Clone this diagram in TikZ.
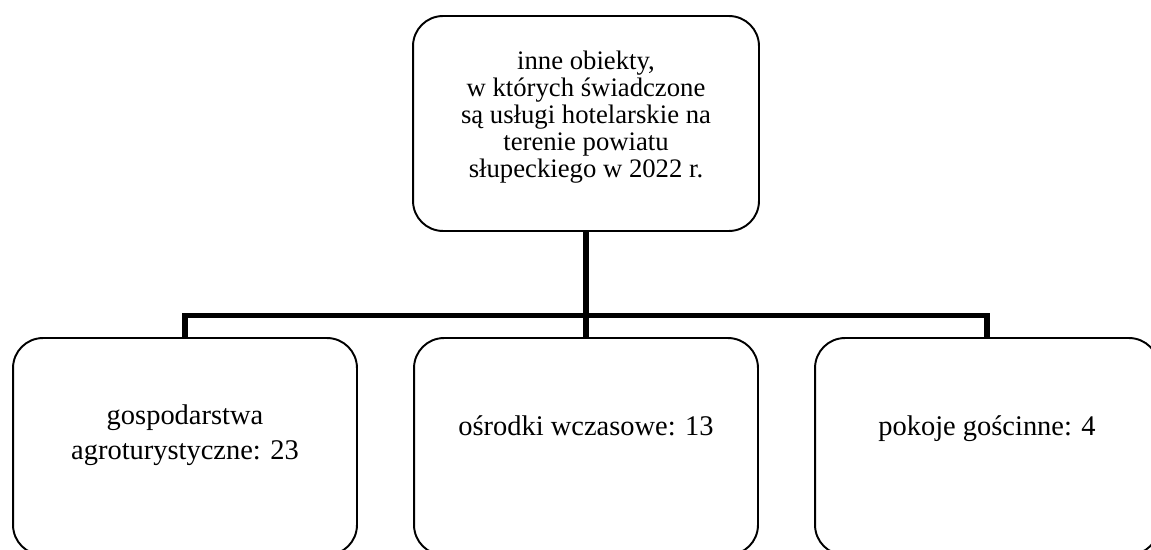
\documentclass[tikz,border=0pt]{standalone}
\usepackage{fontspec}
\setmainfont{Liberation Serif}
\begin{document}
\begin{tikzpicture}[x=0.02cm,y=-0.02cm,
    box/.style={draw,line width=1.1pt,rounded corners=0.6cm,
      minimum width=6.88cm,minimum height=4.34cm,inner sep=0pt},
    txt/.style={align=center,inner sep=0pt,font=\fontsize{15.2}{15.4}\selectfont},
    leaftxt/.style={align=center,inner sep=0pt,font=\fontsize{16.2}{19.9}\selectfont},
    conn/.style={line width=3.1pt}]
  % frame
  \useasboundingbox (0,0) rectangle (1151,550);
  % top box
  \node[box,minimum width=6.92cm,minimum height=4.30cm] (top) at (586,123.5) {};
  \node[txt] (toptext) at (586,117) {inne obiekty,\\ w których świadczone\\ są usługi hotelarskie na\\ terenie powiatu\\ słupeckiego w 2022 r.};
  % bottom boxes
  \foreach \n/\x in {agro/185,osrodki/586,pokoje/987}
    \node[box] (\n) at (\x,446.5) {};
  \node[leaftxt] (agrotext) at (185,435) {gospodarstwa\\ agroturystyczne: 23};
  \node[leaftxt,anchor=base] (osrodkitext) at (586,435) {ośrodki wczasowe: 13};
  \node[leaftxt,anchor=base] (pokojetext) at (987,435) {pokoje gościnne: 4};
  % connectors
  \coordinate (bus) at (586,315.5);
  \draw[conn] (top.south) -- (osrodki.north);
  \draw[conn] (agro.north) -- (agro.north |- bus) -- (pokoje.north |- bus) -- (pokoje.north);
\end{tikzpicture}
\end{document}
